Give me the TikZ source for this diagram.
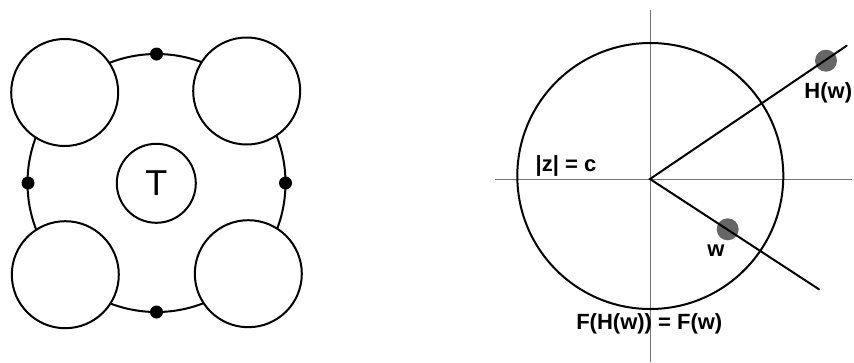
\documentclass[tikz,border=0pt]{standalone}
\usepackage{fontspec}
\setmainfont{Liberation Sans}
\begin{document}
\begin{tikzpicture}[x=1pt,y=-1pt,
  ring/.style={circle,draw=black,line width=2pt,inner sep=0pt,outer sep=0pt,minimum size=#1},
  blob/.style={circle,fill=black,inner sep=0pt,minimum size=13pt},
  gblob/.style={circle,fill=black!60,inner sep=0pt,minimum size=22pt},
  axis/.style={draw=black!55,line width=0.8pt},
  ray/.style={draw=black,line width=2pt},
  lbl/.style={font=\bfseries\fontsize{22}{22}\selectfont,inner sep=0pt}]
\useasboundingbox (0,0) rectangle (854,362);
\fill[white] (0,0) rectangle (854,362);
% left figure
\node[ring=258pt] (outer) at (156.5,183) {};
\node[blob] (dt) at (156.5,54) {};
\node[blob] (db) at (156.5,312) {};
\node[blob] (dl) at (28,183) {};
\node[blob] (dr) at (285.5,183) {};
\node[ring=107pt,fill=white] (tl) at (64.7,92.5) {};
\node[ring=107pt,fill=white] (tr) at (246.7,91) {};
\node[ring=107pt,fill=white] (bl) at (65.3,274.7) {};
\node[ring=107pt,fill=white] (br) at (248.3,273.7) {};
\node[ring=79pt,font=\fontsize{36}{36}\selectfont] (T) at (156.3,183.3) {T};
% right figure
\coordinate (O) at (650,179);
\coordinate (vt) at (650,10);
\coordinate (vb) at (650,362);
\coordinate (hl) at (495,179);
\coordinate (hr) at (852,179);
\draw[axis] (vt) -- (vb);
\draw[axis] (hl) -- (hr);
\node[ring=266pt] (C) at (650.3,176) {};
\coordinate (up) at (846.7,45.7);
\coordinate (dn) at (819,289.3);
\node[gblob] (Hw) at (826,60.7) {};
\node[gblob] (w) at (727.7,229.3) {};
\draw[ray,line cap=round] (up) -- (O) -- (dn);
\node[lbl] (Hl) at (828.3,93) {H(w)};
\node[lbl] (wl) at (716,251) {w};
\node[lbl] (zl) at (566,165.7) {|z| = c};
\node[lbl] (Fl) at (649.3,324) {F(H(w)) = F(w)};
\end{tikzpicture}
\end{document}
